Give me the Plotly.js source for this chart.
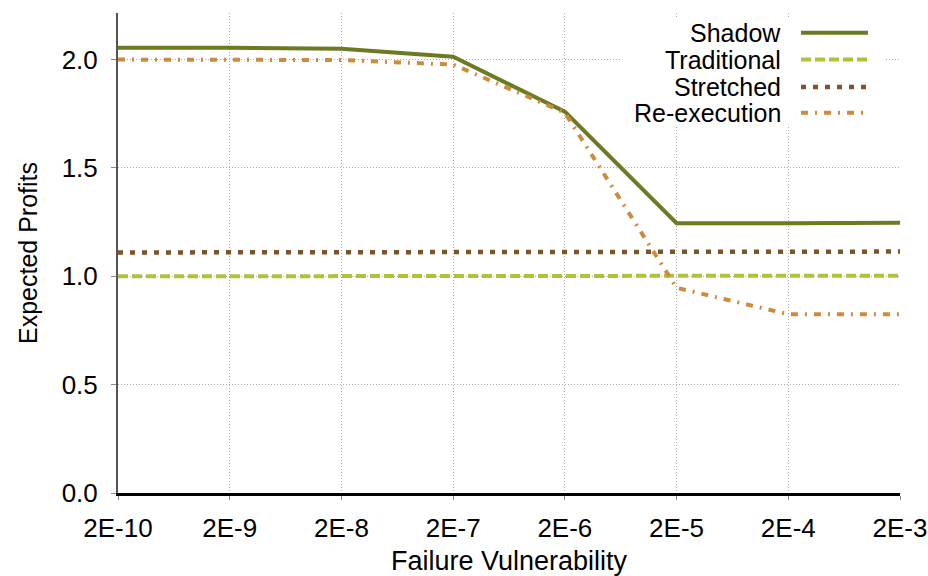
<!DOCTYPE html>
<html>
<head>
<meta charset="utf-8">
<script src="https://cdn.plot.ly/plotly-3.0.1.min.js"></script>
<style>
  html, body { margin: 0; padding: 0; background: #fff; }
  #chart { width: 928px; height: 576px; }
</style>
</head>
<body>
<div id="chart"></div>
<script>
// Failure vulnerability levels (x categories)
const vulnerability = ['2E-10', '2E-9', '2E-8', '2E-7', '2E-6', '2E-5', '2E-4', '2E-3'];

// Expected profits per scheme
const shadow      = [2.055, 2.055, 2.05, 2.013, 1.76, 1.245, 1.245, 1.247];
const traditional = [1.0, 1.0, 1.0, 1.0, 1.0, 1.0, 1.0, 1.003];
const stretched   = [1.11, 1.11, 1.11, 1.11, 1.11, 1.11, 1.112, 1.114];
const reexecution = [2.0, 2.0, 1.998, 1.977, 1.755, 0.947, 0.825, 0.825];

const seriesNames = ['Shadow', 'Traditional', 'Stretched', 'Re-execution'];
const seriesData = [shadow, traditional, stretched, reexecution];
const seriesStyle = [
  { color: '#6b7a23', width: 4, dash: 'solid' },
  { color: '#a9c63b', width: 4, dash: '10px,4px' },
  { color: '#7b5427', width: 4.5, dash: '5px,7px' },
  { color: '#cf8b3c', width: 4, dash: '7px,7px,2px,7px' }
];

const FONT = 'Liberation Sans, Arial, sans-serif';

const traces = seriesData.map((ys, i) => ({
  type: 'scatter',
  mode: 'lines',
  name: seriesNames[i],
  x: vulnerability,
  y: ys,
  line: { color: seriesStyle[i].color, width: seriesStyle[i].width, dash: seriesStyle[i].dash },
  showlegend: false,
  hoverinfo: 'x+y+name'
}));

// Hand-built legend: label on the left, line sample on the right
const legendRows = [0.959, 0.903, 0.846, 0.792];
const shapes = [{
  type: 'rect', xref: 'paper', yref: 'paper',
  x0: 0.645, x1: 0.98, y0: 0.767, y1: 0.99,
  fillcolor: '#ffffff', line: { width: 0 }, layer: 'above'
}];
const annotations = [];
seriesNames.forEach((name, i) => {
  shapes.push({
    type: 'line', xref: 'paper', yref: 'paper',
    x0: 0.8734, x1: 0.959, y0: legendRows[i], y1: legendRows[i],
    line: { color: seriesStyle[i].color, width: seriesStyle[i].width, dash: seriesStyle[i].dash },
    layer: 'above'
  });
  annotations.push({
    xref: 'paper', yref: 'paper', x: 0.8504, y: legendRows[i],
    xanchor: 'right', yanchor: 'middle', showarrow: false,
    text: name, font: { family: FONT, size: 25, color: '#000' }
  });
});

const layout = {
  width: 928,
  height: 576,
  margin: { l: 118, r: 28, t: 13, b: 83 },
  paper_bgcolor: '#ffffff',
  plot_bgcolor: '#ffffff',
  font: { family: FONT, size: 26, color: '#000' },
  xaxis: {
    type: 'category',
    range: [0, 7],
    showgrid: true,
    gridcolor: '#aaaaaa',
    griddash: '1px,2px',
    gridwidth: 1,
    showline: true,
    linecolor: '#000',
    linewidth: 3,
    ticks: 'outside',
    ticklen: 4,
    tickcolor: '#888',
    ticklabelstandoff: 6,
    tickfont: { family: FONT, size: 26, color: '#000' },
    zeroline: false,
    title: { text: 'Failure Vulnerability', font: { family: FONT, size: 27, color: '#000' }, standoff: 20 }
  },
  yaxis: {
    range: [0, 2.215],
    tickvals: [0, 0.5, 1.0, 1.5, 2.0],
    ticktext: ['0.0', '0.5', '1.0', '1.5', '2.0'],
    showgrid: true,
    gridcolor: '#aaaaaa',
    griddash: '1px,2px',
    gridwidth: 1,
    showline: true,
    linecolor: '#555',
    linewidth: 2,
    ticks: 'outside',
    ticklen: 5,
    tickcolor: '#888',
    ticklabelstandoff: 8,
    tickfont: { family: FONT, size: 26, color: '#000' },
    zeroline: false,
    title: { text: 'Expected Profits', font: { family: FONT, size: 25, color: '#000' }, standoff: 17 }
  },
  shapes: shapes,
  annotations: annotations,
  showlegend: false
};

Plotly.newPlot('chart', traces, layout, { displayModeBar: false, staticPlot: true });
</script>
</body>
</html>
